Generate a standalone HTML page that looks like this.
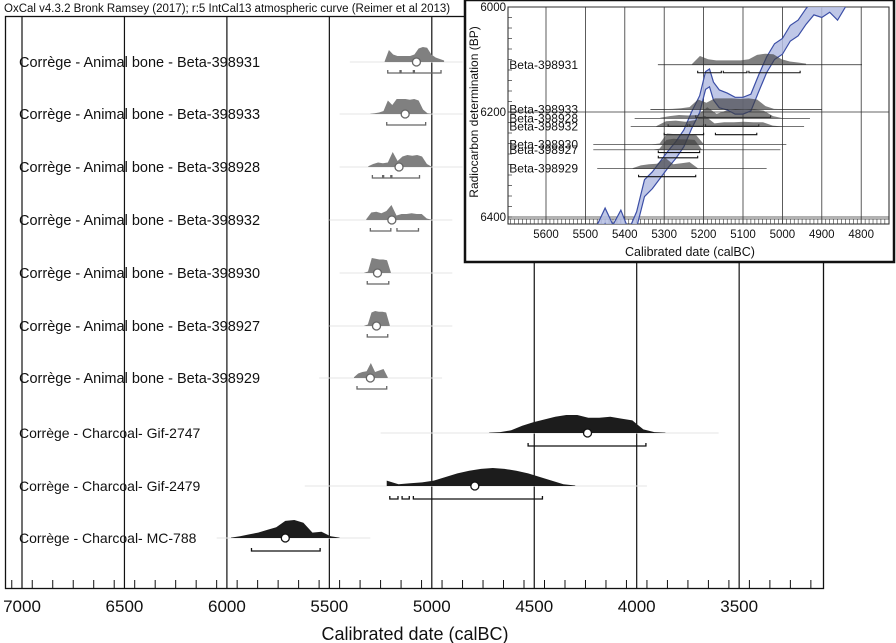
<!DOCTYPE html>
<html><head><meta charset="utf-8"><style>
html,body{margin:0;padding:0;background:#fff;}
svg{display:block;font-family:"Liberation Sans",Arial,sans-serif;}
</style></head><body>
<svg id="chart" width="896" height="643" viewBox="0 0 896 643" xmlns="http://www.w3.org/2000/svg">
<rect x="0" y="0" width="896" height="643" fill="#fff"/>
<text x="4" y="12" font-size="11.5" fill="#111">OxCal v4.3.2 Bronk Ramsey (2017); r:5 IntCal13 atmospheric curve (Reimer et al 2013)</text>
<g id="main"></g>
<g id="inset"></g>
</svg>
<script>
// ---- data ----
const rowLabels = ["Corrège - Animal bone - Beta-398931","Corrège - Animal bone - Beta-398933","Corrège - Animal bone - Beta-398928","Corrège - Animal bone - Beta-398932","Corrège - Animal bone - Beta-398930","Corrège - Animal bone - Beta-398927","Corrège - Animal bone - Beta-398929","Corrège - Charcoal- Gif-2747","Corrège - Charcoal- Gif-2479","Corrège - Charcoal- MC-788"];
const insetLabels = ["Beta-398931","Beta-398933","Beta-398928","Beta-398932","Beta-398930","Beta-398927","Beta-398929"];
const distStart = [5230,5300,5310,5320,5330,5330,5380,4720,5220,5980];
const distEnd = [4940,5000,5000,5000,5200,5205,5215,3860,4300,5450];
const densities = [
 [0.05,0.8,0.5,0.4,0.4,0.4,0.4,0.5,0.9,1,0.95,0.5,0.3,0.2,0.1],
 [0.02,0.05,0.1,0.2,0.9,0.6,1,1,1,0.95,1,0.9,0.3,0.05,0.02],
 [0.05,0.2,0.3,0.25,0.3,1,0.4,0.7,0.8,0.75,0.8,0.7,0.2,0.02],
 [0.05,0.5,0.55,0.45,0.6,1,0.3,0.4,0.4,0.45,0.4,0.4,0.1,0.02],
 [0.02,0.1,1,0.95,0.9,0.9,0.85,0.05],
 [0.02,0.1,0.9,1,0.95,0.95,0.9,0.05],
 [0.05,0.3,0.4,0.45,1,0.4,0.5,0.6,0.05],
 [0.02,0.05,0.15,0.4,0.6,0.75,0.9,1,1,0.85,0.85,0.9,0.8,0.7,0.2,0.05,0.02],
 [0.3,0.1,0.15,0.2,0.3,0.5,0.7,0.85,0.95,1,0.95,0.85,0.7,0.5,0.3,0.1,0.03],
 [0.02,0.1,0.2,0.3,0.45,0.6,0.95,1,0.85,0.3,0.35,0.1,0.02]
];
const medians = [5075,5130,5160,5195,5265,5270,5300,4240,4790,5715];
const ranges = [
 [[5215,5155],[5150,5090],[5085,4955]],
 [[5220,5030]],
 [[5290,5240],[5235,5200],[5195,5060]],
 [[5300,5200],[5170,5065]],
 [[5315,5210]],
 [[5315,5215]],
 [[5365,5220]],
 [[4530,3955]],
 [[5205,5165],[5145,5110],[5090,4460]],
 [[5880,5545]]
];
const likeStart = [5400,5450,5450,5500,5450,5500,5550,5250,5620,6050];
const likeEnd = [4850,4850,4850,4900,4900,4900,4950,3600,3950,5300];
const insetBP = [6110,6195,6212,6228,6262,6272,6308];
const insetLineStart = [5316,5335,5375,5385,5480,5480,5470];
const insetLineEnd = [4798,4900,4930,4945,4990,5005,5040];
const mainTicks = [7000,6500,6000,5500,5000,4500,4000,3500];
const insetXTicks = [5600,5500,5400,5300,5200,5100,5000,4900,4800];
const insetYTicks = [6000,6200,6400];
const curveYears = [5470,5450,5430,5410,5390,5370,5350,5330,5310,5290,5270,5250,5230,5210,5195,5185,5175,5160,5140,5120,5100,5080,5060,5040,5020,5000,4980,4960,4940,4920,4900,4880,4860,4840];
const curveBP = [6430,6398,6430,6402,6440,6405,6345,6330,6310,6290,6272,6250,6215,6185,6140,6135,6160,6175,6180,6188,6188,6182,6145,6110,6085,6075,6050,6040,6018,6000,6005,5995,6010,5985];
const curveErr = [15,15,15,15,15,15,16,16,16,16,16,16,16,16,17,17,17,17,16,16,16,16,16,15,15,15,15,15,15,15,15,15,15,15];

// ---- helpers ----
const NS="http://www.w3.org/2000/svg";
function mk(tag,attrs,parent){const e=document.createElementNS(NS,tag);for(const k in attrs)e.setAttribute(k,attrs[k]);parent.appendChild(e);return e;}
const xMain = y => 22 + (7000 - y) * 0.2049;
const rowY = [62,114,167,220,273,326,378,433,486,538];
const xIn = y => 546 + (5600 - y) * 0.394;
const yIn = bp => 7 + (bp - 6000) * 210 / 400;

const main=document.getElementById('main');
let fr=mk('rect',{x:5.5,y:16.5,width:818,height:572,fill:'none',stroke:'#111','stroke-width':1.3},main);


mainTicks.forEach(t=>{
  let l=mk('line',{x1:xMain(t),x2:xMain(t),y1:17,y2:588,stroke:'#111','stroke-width':1.2},main);
  
  
  let tx=mk('text',{x:xMain(t),y:612,'font-size':17,'text-anchor':'middle',fill:'#111'},main);
  tx.textContent=t;
  
  
});
for(let yr=7050;yr>=3100;yr-=100){
  let l=mk('line',{x1:xMain(yr),x2:xMain(yr),y1:580,y2:588,stroke:'#111','stroke-width':1},main);
  
  
}
let xt=mk('text',{x:415,y:640,'font-size':18,'text-anchor':'middle',fill:'#111'},main);
xt.textContent='Calibrated date (calBC)';



function drawDist(parent,i,xf,base,H,fill,name){
  const d=densities[i],n=d.length,s=distStart[i],e=distEnd[i];
  let pts=[xf(s)+','+base];
  d.forEach((v,k)=>{const yr=s+(e-s)*k/(n-1);pts.push(xf(yr)+','+(base-v*H));});
  pts.push(xf(e)+','+base);
  let p=mk('polygon',{points:pts.join(' '),fill:fill},parent);
  
  
}

rowLabels.forEach((lab,i)=>{
  const g=mk('g',{},main);
  
  
  const b=rowY[i], bone=i<7, H=bone?15:18, col=bone?'#808080':'#1c1c1c';
  let ll=mk('line',{x1:xMain(likeStart[i]),x2:xMain(likeEnd[i]),y1:b,y2:b,stroke:'#e6e6e6','stroke-width':1},g);
  
  
  drawDist(g,i,xMain,b,H,col,'posterior-distribution');
  ranges[i].forEach(r=>{
    const by=b+(bone?11:13);
    let pl=mk('polyline',{points:`${xMain(r[0])},${by-3} ${xMain(r[0])},${by} ${xMain(r[1])},${by} ${xMain(r[1])},${by-3}`,fill:'none',stroke:bone?'#666':'#111','stroke-width':1.3},g);
    
    
  });
  let c=mk('circle',{cx:xMain(medians[i]),cy:b,r:4,fill:'#fff',stroke:bone?'#666':'#111','stroke-width':1.3},g);
  
  
  let t=mk('text',{x:19,y:b+5,'font-size':bone?14.5:14,fill:'#111'},g);
  t.textContent=lab;
  
  
});

// ---- inset ----
const ins=document.getElementById('inset');
let ib=mk('rect',{x:465,y:0,width:429,height:262,fill:'#fff',stroke:'#111','stroke-width':2.5},ins);


let pa=mk('rect',{x:508,y:7,width:381,height:217,fill:'#fff',stroke:'#222','stroke-width':1},ins);


const defs=mk('defs',{},ins);
const cp=mk('clipPath',{id:'clipIn'},defs);
mk('rect',{x:508,y:7,width:381,height:217},cp);
insetXTicks.forEach(t=>{
  let l=mk('line',{x1:xIn(t),x2:xIn(t),y1:7,y2:224,stroke:'#333','stroke-width':0.8},ins);
  
  
  let tx=mk('text',{x:xIn(t),y:238,'font-size':11.5,'text-anchor':'middle',fill:'#111'},ins);
  tx.textContent=t;
  
  
});
insetYTicks.forEach(t=>{
  let l=mk('line',{x1:508,x2:889,y1:yIn(t),y2:yIn(t),stroke:'#333','stroke-width':0.8},ins);
  
  
  let tx=mk('text',{x:506,y:yIn(t)+4,'font-size':11.5,'text-anchor':'end',fill:'#111'},ins);
  tx.textContent=t;
  
  
});
for(let bp=6000;bp<=6400;bp+=20){
  let l=mk('line',{x1:508,x2:512,y1:yIn(bp),y2:yIn(bp),stroke:'#333','stroke-width':0.7},ins);
  
  
}
for(let yr=5700;yr>=4700;yr-=10){
  if(xIn(yr)<508||xIn(yr)>889)continue;
  let l=mk('line',{x1:xIn(yr),x2:xIn(yr),y1:219,y2:224,stroke:'#333','stroke-width':0.6},ins);
  
  
}
let ml=mk('line',{x1:508,x2:889,y1:219,y2:219,stroke:'#333','stroke-width':0.7},ins);


let yt=mk('text',{x:0,y:0,'font-size':12,'text-anchor':'middle',fill:'#111',transform:'translate(478,112) rotate(-90)'},ins);
yt.textContent='Radiocarbon determination (BP)';


let it=mk('text',{x:690,y:256,'font-size':12.5,'text-anchor':'middle',fill:'#111'},ins);
it.textContent='Calibrated date (calBC)';



const cg=mk('g',{'clip-path':'url(#clipIn)'},ins);


const up=curveYears.map((y,k)=>xIn(y)+','+yIn(curveBP[k]-curveErr[k]));
const lo=curveYears.map((y,k)=>xIn(y)+','+yIn(curveBP[k]+curveErr[k])).reverse();
let band=mk('polygon',{points:up.concat(lo).join(' '),fill:'#b4bde3','fill-opacity':0.85,stroke:'#3b4ea6','stroke-width':1.2},cg);



insetLabels.forEach((lab,i)=>{
  const g=mk('g',{},ins);
  
  
  const b=yIn(insetBP[i]);
  let l=mk('line',{x1:xIn(insetLineStart[i]),x2:xIn(insetLineEnd[i]),y1:b,y2:b,stroke:'#222','stroke-width':0.7},g);
  
  
  drawDist(g,i,xIn,b,11,'rgba(60,60,60,0.65)','inset-distribution');
  ranges[i].forEach(r=>{
    const by=b+8;
    let pl=mk('polyline',{points:`${xIn(r[0])},${by-2} ${xIn(r[0])},${by} ${xIn(r[1])},${by} ${xIn(r[1])},${by-2}`,fill:'none',stroke:'#111','stroke-width':1.1},g);
    
    
  });
  let t=mk('text',{x:578,y:b+4,'font-size':12,'text-anchor':'end',fill:'#111'},g);
  t.textContent=lab;
  
  
});
</script>
</body></html>
